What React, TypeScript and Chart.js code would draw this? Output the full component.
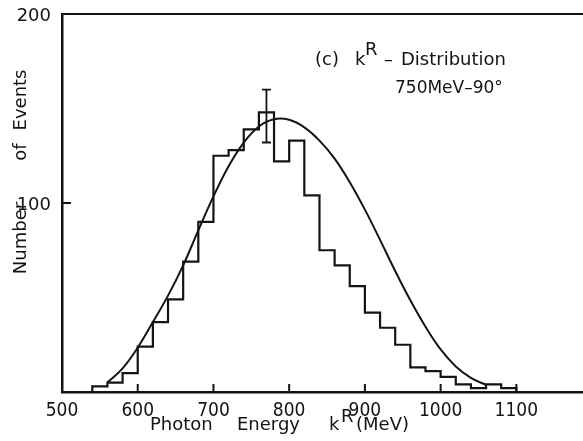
import { useEffect, useRef } from "react";
import { Chart, registerables } from "chart.js";

Chart.register(...registerables);

// Histogram of reconstructed photon energy k^R (MeV), 20 MeV bins
const binEdges = [
  540, 560, 580, 600, 620, 640, 660, 680, 700, 720, 740, 760, 780, 800, 820,
  840, 860, 880, 900, 920, 940, 960, 980, 1000, 1020, 1040, 1060, 1080, 1100,
];
const binCounts = [
  3, 5, 10, 24, 37, 49, 69, 90, 125, 128, 139, 148, 122, 133, 104, 75, 67, 56,
  42, 34, 25, 13, 11, 8, 4, 2, 4, 2,
];

// Expected distribution (smooth curve)
const fitEnergy = [
  560, 580, 600, 620, 640, 660, 680, 700, 720, 740, 760, 780, 800, 820, 840,
  860, 880, 900, 920, 940, 960, 980, 1000, 1020, 1040, 1060,
];
const fitCounts = [
  5, 12.5, 23.5, 37, 51, 67, 85.5, 103.5, 119.5, 132, 140.5, 144.3, 144, 140,
  133, 123.5, 111, 96.5, 80.5, 64, 48.5, 34.5, 22.5, 13.5, 7.5, 3.7,
];

// Statistical error bar on the peak bin
const errorEnergy = 770;
const errorLow = 132;
const errorHigh = 160;

const xTicks = [500, 600, 700, 800, 900, 1000, 1100];
const xInnerTicks = [600, 700, 800, 900, 1000, 1100];
const yTicks = [100, 200];
const yInnerTicks = [100];

const INK = "#141414";
const TEXT_FONT = "'DejaVu Sans', sans-serif";

const decorations = {
  id: "decorations",
  afterDatasetsDraw(chart: any) {
    const ctx = chart.ctx as CanvasRenderingContext2D;
    const { left, right, top, bottom } = chart.chartArea;
    const xs = chart.scales.x;
    const ys = chart.scales.y;
    ctx.save();
    ctx.strokeStyle = INK;
    ctx.fillStyle = INK;
    ctx.lineCap = "butt";

    // upper frame line
    ctx.lineWidth = 2.2;
    ctx.beginPath();
    ctx.moveTo(left, top);
    ctx.lineTo(right, top);
    ctx.stroke();

    // inward tick marks
    ctx.lineWidth = 2;
    ctx.beginPath();
    for (const v of xInnerTicks) {
      const px = xs.getPixelForValue(v);
      ctx.moveTo(px, bottom);
      ctx.lineTo(px, bottom - 8);
    }
    for (const v of yInnerTicks) {
      const py = ys.getPixelForValue(v);
      ctx.moveTo(left, py);
      ctx.lineTo(left + 9, py);
    }
    ctx.stroke();

    // error bar
    const ex = xs.getPixelForValue(errorEnergy);
    const eLo = ys.getPixelForValue(errorLow);
    const eHi = ys.getPixelForValue(errorHigh);
    ctx.lineWidth = 1.8;
    ctx.beginPath();
    ctx.moveTo(ex, eLo);
    ctx.lineTo(ex, eHi);
    ctx.moveTo(ex - 4.5, eLo);
    ctx.lineTo(ex + 4.5, eLo);
    ctx.moveTo(ex - 4.5, eHi);
    ctx.lineTo(ex + 4.5, eHi);
    ctx.stroke();

    // labels
    ctx.textAlign = "left";
    ctx.textBaseline = "alphabetic";
    ctx.font = `18px ${TEXT_FONT}`;
    ctx.fillText("(c)", 315, 65);
    ctx.fillText("k", 355, 65);
    ctx.fillText("R", 365, 55);
    ctx.fillText("–", 384, 65);
    ctx.fillText("Distribution", 401, 65);
    ctx.font = `17px ${TEXT_FONT}`;
    ctx.fillText("750MeV–90°", 395, 93);

    // x-axis title
    ctx.font = `18px ${TEXT_FONT}`;
    ctx.fillText("Photon", 150, 430);
    ctx.fillText("Energy", 237, 430);
    ctx.fillText("k", 329, 430);
    ctx.fillText("R", 341, 422);
    ctx.fillText("(MeV)", 356, 430);

    // y-axis title, one word at a time
    const yWords: [string, number][] = [
      ["Number", 238],
      ["of", 152],
      ["Events", 100],
    ];
    ctx.textAlign = "center";
    for (const [word, cy] of yWords) {
      ctx.save();
      ctx.translate(25.5, cy);
      ctx.rotate(-Math.PI / 2);
      ctx.fillText(word, 0, 0);
      ctx.restore();
    }
    ctx.restore();
  },
};

export default function App() {
  const canvasRef = useRef<HTMLCanvasElement | null>(null);

  useEffect(() => {
    const canvas = canvasRef.current;
    if (!canvas) return;

    const histogram: { x: number; y: number }[] = [{ x: binEdges[0], y: 0 }];
    binCounts.forEach((c, i) => histogram.push({ x: binEdges[i], y: c }));
    histogram.push({ x: binEdges[binEdges.length - 1], y: 0 });

    const fit = fitEnergy.map((e, i) => ({ x: e, y: fitCounts[i] }));

    const chart = new Chart(canvas, {
      type: "line",
      data: {
        datasets: [
          {
            data: histogram,
            stepped: true,
            borderColor: INK,
            borderWidth: 2.2,
            pointRadius: 0,
            fill: false,
          },
          {
            data: fit,
            tension: 0.4,
            borderColor: INK,
            borderWidth: 2,
            pointRadius: 0,
            fill: false,
          },
        ],
      },
      options: {
        animation: false,
        responsive: false,
        devicePixelRatio: 1,
        events: [],
        layout: { padding: { top: 14, right: 0, left: 0, bottom: 0 } },
        plugins: {
          legend: { display: false },
          tooltip: { enabled: false },
        },
        scales: {
          x: {
            type: "linear",
            min: 500,
            max: 1188,
            grid: { display: false },
            border: { display: true, color: INK, width: 2.5 },
            afterBuildTicks: (scale: any) => {
              scale.ticks = xTicks.map((v) => ({ value: v }));
            },
            afterFit: (scale: any) => {
              scale.height = 49;
            },
            ticks: {
              color: INK,
              padding: 0,
              maxRotation: 0,
              autoSkip: false,
              callback: (v: any) => String(v),
              font: {
                family:
                  "'Liberation Sans Narrow', 'DejaVu Sans Condensed', 'Liberation Sans', sans-serif",
                size: 19,
              },
            },
          },
          y: {
            type: "linear",
            min: 0,
            max: 200,
            grid: { display: false },
            border: { display: true, color: INK, width: 2.5 },
            afterBuildTicks: (scale: any) => {
              scale.ticks = yTicks.map((v) => ({ value: v }));
            },
            afterFit: (scale: any) => {
              scale.width = 62;
            },
            ticks: {
              color: INK,
              padding: 3,
              labelOffset: 2,
              callback: (v: any) => String(v),
              font: { family: TEXT_FONT, size: 18 },
            },
          },
        },
      },
      plugins: [decorations],
    } as any);

    return () => chart.destroy();
  }, []);

  return (
    <div
      style={{
        position: "fixed",
        left: 0,
        top: 0,
        width: 583,
        height: 441,
        background: "#fff",
      }}
    >
      <canvas ref={canvasRef} width={583} height={441} />
    </div>
  );
}
